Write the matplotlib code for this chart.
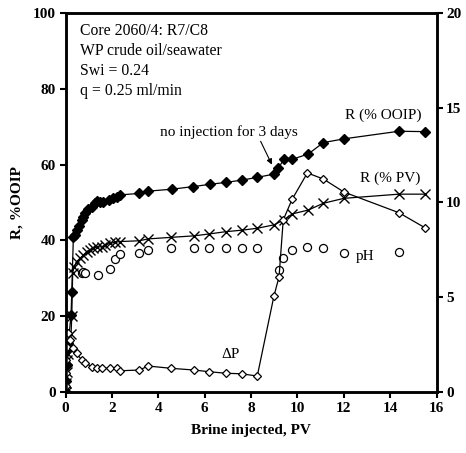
import matplotlib
matplotlib.use("Agg")
import matplotlib.pyplot as plt

# R (% OOIP) - left axis
r_ooip_x = [0, 0.03, 0.05, 0.08, 0.12, 0.24, 0.27, 0.34, 0.41, 0.51, 0.60, 0.70, 0.77, 0.84, 0.98,
            1.13, 1.27, 1.37, 1.49, 1.63, 1.89, 2.06, 2.21, 2.35, 3.18, 3.57, 4.58, 5.51, 6.23,
            6.91, 7.60, 8.24, 9.00, 9.18, 9.42, 9.78, 10.47, 11.12, 12.01, 14.38, 15.50]
r_ooip_y = [0, 3, 7, 11, 13, 20.3, 26.3, 41.0, 41.4, 42.7, 43.8, 45.4, 46.3, 47.2, 48.2,
            48.9, 49.9, 50.4, 50.2, 50.2, 50.7, 51.1, 51.4, 52.0, 52.4, 53.0, 53.5, 54.2, 54.8,
            55.3, 55.9, 56.6, 57.5, 59.0, 61.5, 61.4, 62.8, 65.8, 66.8, 68.8, 68.7]

# R (% PV) - left axis
r_pv_x = [0, 0.03, 0.05, 0.08, 0.12, 0.24, 0.27, 0.31, 0.38, 0.48, 0.63, 0.77, 0.91, 1.06, 1.20,
          1.35, 1.56, 1.70, 1.92, 2.13, 2.35, 3.18, 3.57, 4.55, 5.54, 6.20, 6.91, 7.61, 8.27,
          8.99, 9.42, 9.78, 10.47, 11.12, 12.01, 14.38, 15.50]
r_pv_y = [0, 2.3, 5.3, 8.4, 9.9, 15.4, 20.0, 31.5, 33.1, 34.4, 35.3, 36.1, 37.0, 37.5, 37.9,
          38.3, 38.3, 38.8, 39.2, 39.5, 39.7, 39.9, 40.4, 40.8, 41.2, 41.7, 42.3, 42.7, 43.2,
          44.1, 45.4, 47.0, 48.0, 49.8, 51.1, 52.2, 52.2]

# pH - right axis (markers only)
ph_x = [0.70, 0.77, 0.84, 1.40, 1.92, 2.13, 2.35, 3.18, 3.57, 4.55, 5.54, 6.20, 6.91, 7.61, 8.27,
        9.20, 9.39, 9.75, 10.43, 11.12, 12.01, 14.38]
ph_y = [6.3, 6.35, 6.3, 6.2, 6.5, 7.0, 7.3, 7.32, 7.49, 7.58, 7.58, 7.62, 7.62, 7.62, 7.62,
        6.44, 7.05, 7.49, 7.64, 7.58, 7.35, 7.40]

# Differential pressure - right axis
dp_x = [0, 0.02, 0.03, 0.05, 0.08, 0.12, 0.19, 0.34, 0.48, 0.70, 0.84, 1.13, 1.35, 1.56, 1.92,
        2.21, 2.35, 3.18, 3.57, 4.55, 5.54, 6.20, 6.91, 7.61, 8.27, 8.99, 9.21, 9.39, 9.77,
        10.43, 11.12, 12.01, 14.38, 15.50]
dp_y = [0.3, 1.0, 1.7, 2.4, 2.9, 3.1, 2.74, 2.31, 2.04, 1.69, 1.55, 1.34, 1.25, 1.25, 1.25,
        1.25, 1.12, 1.16, 1.37, 1.25, 1.16, 1.07, 0.99, 0.96, 0.84, 5.07, 6.08, 9.08, 10.16,
        11.56, 11.24, 10.55, 9.46, 8.67]

x_ticks = [0, 2, 4, 6, 8, 10, 12, 14, 16]
left_ticks = [0, 20, 40, 60, 80, 100]
right_ticks = [0, 5, 10, 15, 20]

info_lines = ["Core 2060/4: R7/C8", "WP crude oil/seawater", "Swi = 0.24", "q = 0.25 ml/min"]

plt.rcParams['font.family'] = ['Liberation Serif', 'DejaVu Serif']

fig = plt.figure(figsize=(4.66, 4.53), dpi=100)
ax = fig.add_axes([65.5 / 466, 1 - 392 / 453, 371 / 466, 379 / 453])
ax2 = ax.twinx()

ax.plot(r_ooip_x, r_ooip_y, color='black', lw=0.9, marker='D', ms=5, mfc='black', mec='black', zorder=3)
ax.plot(r_pv_x, r_pv_y, color='black', lw=0.9, marker='x', ms=6.5, mew=1.0, zorder=3)
ax2.plot(ph_x, ph_y, linestyle='none', marker='o', ms=5.8, mfc='white', mec='black', mew=0.9)
ax2.plot(dp_x, dp_y, color='black', lw=0.9, marker='D', ms=4.3, mfc='white', mec='black', mew=0.9)

ax.set_xlim(0, 16)
ax.set_ylim(0, 100)
ax2.set_ylim(0, 20)
ax.set_xticks(x_ticks)
ax.set_yticks(left_ticks)
ax2.set_yticks(right_ticks)

for a in (ax, ax2):
    for s in a.spines.values():
        s.set_linewidth(1.8)
ax.tick_params(axis='both', direction='out', width=1.5, length=4, labelsize=11, pad=3)
ax2.tick_params(axis='y', direction='out', width=1.5, length=4, labelsize=11, pad=3)
for lbl in ax.get_xticklabels() + ax.get_yticklabels() + ax2.get_yticklabels():
    lbl.set_fontweight('bold')

ax.set_xlabel("Brine injected, PV", fontsize=11, fontweight='bold', labelpad=7)
ax.set_ylabel("R, %OOIP", fontsize=11, fontweight='bold', labelpad=7)

for i, t in enumerate(info_lines):
    ax.text(0.63, 95.3 - i * 5.28, t, fontsize=11.3, va='center', ha='left')

ax.annotate("no injection for 3 days", xy=(8.9, 60.0), xytext=(7.05, 68.7),
            fontsize=11, ha='center', va='center',
            arrowprops=dict(arrowstyle='-|>', color='black', lw=0.8,
                            shrinkA=0, shrinkB=0, mutation_scale=8,
                            relpos=(0.72, 0.0)))
ax.text(13.7, 73.1, "R (% OOIP)", fontsize=11, ha='center', va='center')
ax.text(14.0, 56.4, "R (% PV)", fontsize=11, ha='center', va='center')
ax.text(12.9, 35.7, "pH", fontsize=11, ha='center', va='center')
ax.text(7.1, 9.8, "ΔP", fontsize=11, ha='center', va='center')

fig.savefig("out.png", dpi=100)
